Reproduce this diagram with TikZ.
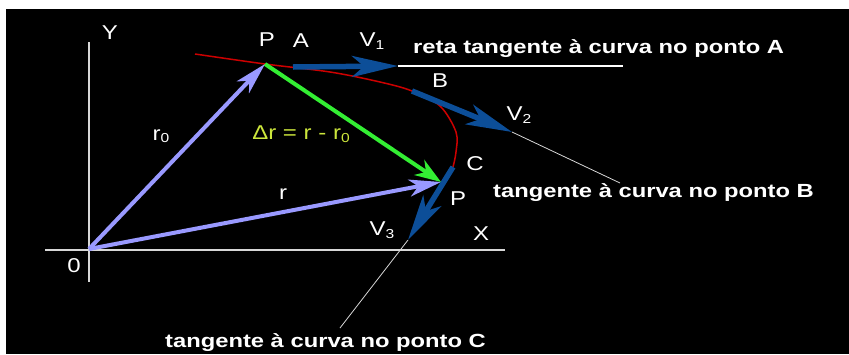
\documentclass[tikz,border=0pt]{standalone}
\usepackage{fontspec}
\setmainfont{Liberation Sans}[FakeStretch=1.2]
\newfontfamily\tanfont{Liberation Sans}[FakeStretch=1.25]
\usetikzlibrary{arrows.meta}
\definecolor{lav}{RGB}{153,153,255}
\definecolor{grn}{RGB}{51,238,51}
\definecolor{vblue}{RGB}{12,78,152}
\definecolor{crv}{RGB}{205,0,0}
\definecolor{dlab}{RGB}{204,230,60}
\definecolor{axisc}{RGB}{215,215,215}
\newcommand\sbs[1]{\raisebox{-2.5pt}{\fontsize{13}{14}\selectfont #1}}
\begin{document}
\begin{tikzpicture}[x=1pt,y=-1pt,
  lbl/.style={text=white,font=\fontsize{20}{24}\selectfont,inner sep=0pt},
  tanlbl/.style={text=white,font=\tanfont\bfseries\fontsize{19}{22}\selectfont,inner sep=0pt,anchor=base west},
  axisline/.style={draw=axisc,line width=1.5pt},
  posvec/.style={draw=lav,line width=4pt,-{Stealth[length=32pt,width=17pt,inset=9pt]}},
  dvec/.style={draw=grn,line width=4pt,-{Stealth[length=26pt,width=18pt,inset=8pt]}},
  velvec/.style={draw=vblue,line width=5.5pt,-{Stealth[length=46pt,width=21pt,inset=12pt]}},
  tanline/.style={draw=white,line width=1.3pt},
  guide/.style={draw=axisc,line width=0.8pt},
  curve/.style={draw=crv,line width=1.5pt}]
\useasboundingbox (0,0) rectangle (849,354);
\fill[white] (0,0) rectangle (849,354);
\fill[black] (6,9) rectangle (849,354);
% coordinates
\coordinate (O) at (89,249);
\coordinate (PA) at (265,64);
\coordinate (PC) at (441,182);
\coordinate (Ytop) at (89,42);
\coordinate (Ybot) at (89,282);
\coordinate (Xl) at (45,250);
\coordinate (Xr) at (505,250);
\coordinate (c0) at (195,54);
\coordinate (c2) at (330,72);
\coordinate (c3) at (380,82);
\coordinate (B) at (412,91);
\coordinate (c5) at (440,106);
\coordinate (c6) at (456,132);
\coordinate (c7) at (456,152);
\coordinate (C) at (453,167);
\coordinate (V1s) at (293,67);
\coordinate (V1e) at (398,66);
\coordinate (TAe) at (623,66);
\coordinate (V2e) at (512,132);
\coordinate (TBe) at (620,183);
\coordinate (V3e) at (408,240);
\coordinate (TCe) at (340,328);
% axes
\draw[axisline] (Ytop) -- (Ybot);
\draw[axisline] (Xl) -- (Xr);
% curve
\draw[curve] plot[smooth,tension=0.55] coordinates {(c0) (PA) (c2) (c3) (B) (c5) (c6) (c7) (C)};
% tangent lines
\draw[tanline] (V1e) -- (TAe);
\draw[guide] (V2e) -- (TBe);
\draw[guide] (V3e) -- (TCe);
% vectors
\draw[posvec] (O) -- (PA);
\draw[posvec] (O) -- (PC);
\draw[dvec] (PA) -- (PC);
\draw[velvec] (V1s) -- (V1e);
\draw[velvec] (B) -- (V2e);
\draw[velvec] (C) -- (V3e);
% labels
\node[lbl] (lY) at (110,33) {Y};
\node[lbl] (lO) at (74,266) {0};
\node[lbl] (lX) at (481,234) {X};
\node[lbl] (lP1) at (267,40) {P};
\node[lbl] (lA) at (301,41) {A};
\node[lbl] (lV1) at (372,41) {V\sbs{1}};
\node[lbl] (lB) at (440,81) {B};
\node[lbl] (lV2) at (519,115) {V\sbs{2}};
\node[lbl] (lC) at (475,164) {C};
\node[lbl] (lP2) at (458,199) {P};
\node[lbl] (lV3) at (382,230) {V\sbs{3}};
\node[lbl] (lr) at (283,194) {r};
\node[lbl] (lr0) at (161,136) {r\sbs{0}};
\node[lbl,text=dlab] (ldr) at (301,134) {Δr = r - r\sbs{0}};
\node[tanlbl] (tA) at (413,53) {reta tangente à curva no ponto A};
\node[tanlbl] (tB) at (493,197) {tangente à curva no ponto B};
\node[tanlbl] (tC) at (165,347) {tangente à curva no ponto C};
\end{tikzpicture}
\end{document}
